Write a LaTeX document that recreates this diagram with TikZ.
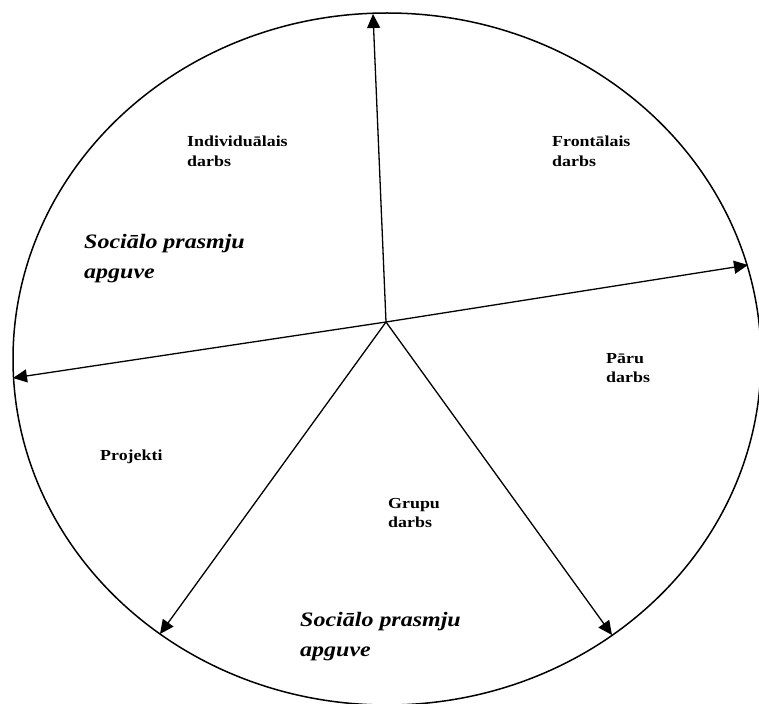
\documentclass[tikz,border=0pt]{standalone}
\usepackage{fontspec}
\setmainfont{Liberation Serif}
\newfontfamily\widefont[FakeStretch=1.17]{Liberation Serif}
\usetikzlibrary{arrows.meta}
\begin{document}
\begin{tikzpicture}[x=1pt,y=-1pt,
  lbl/.style={font=\widefont\bfseries\fontsize{15.3}{19.5}\selectfont, align=left, inner sep=0pt, anchor=north west},
  soc/.style={font=\widefont\bfseries\itshape\fontsize{20.5}{30}\selectfont, align=left, inner sep=0pt, anchor=north west},
  spoke/.style={line width=1.3pt, -{Triangle[length=14pt,width=13pt]}},
  rim/.style={line width=1.5pt}]
\useasboundingbox (0,0) rectangle (759,703);
\draw[rim] (387,359) ellipse [x radius=374, y radius=346];
\coordinate (c) at (386,322);
\coordinate (top) at (373,14);
\coordinate (right) at (748,265);
\coordinate (left) at (13,378);
\coordinate (bl) at (160,634);
\coordinate (br) at (612,635);
\draw[spoke] (c) -- (top);
\draw[spoke] (c) -- (right);
\draw[spoke] (c) -- (left);
\draw[spoke] (c) -- (bl);
\draw[spoke] (c) -- (br);
\node[lbl] (ind) at (187,136) {Individuālais\\darbs};
\node[lbl] (fro) at (552,136) {Frontālais\\darbs};
\node[lbl] (par) at (606,353) {Pāru\\darbs};
\node[lbl] (pro) at (100,450) {Projekti};
\node[lbl] (gru) at (388,498) {Grupu\\darbs};
\node[soc] (s1) at (84,234) {Sociālo prasmju\\apguve};
\node[soc] (s2) at (300,612) {Sociālo prasmju\\apguve};
\end{tikzpicture}
\end{document}
